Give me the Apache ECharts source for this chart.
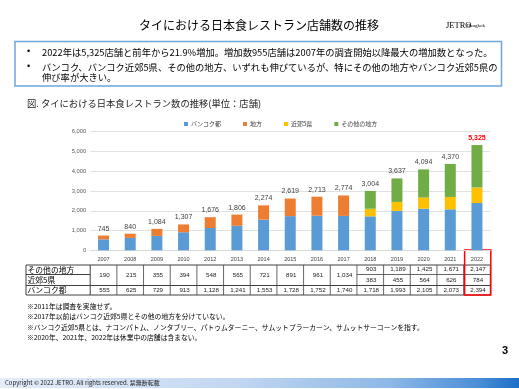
<!DOCTYPE html>
<html><head><meta charset="utf-8">
<script src="https://cdn.jsdelivr.net/npm/echarts@6/dist/echarts.min.js"></script>
<style>html,body{margin:0;padding:0;background:#fff}#c{width:519px;height:389px}</style>
</head><body><div id="c"></div>
<script>
const years = ['2007','2008','2009','2010','2012','2013','2014','2015','2016','2017','2018','2019','2020','2021','2022'];
const bangkok = [555,625,729,913,1128,1241,1553,1728,1752,1740,1718,1993,2105,2073,2394];
const chiho   = [190,215,355,394,548,565,721,891,961,1034,null,null,null,null,null];
const suburb  = [null,null,null,null,null,null,null,null,null,null,383,455,564,626,784];
const other   = [null,null,null,null,null,null,null,null,null,null,903,1189,1425,1671,2147];
const yTicks  = [0,1000,2000,3000,4000,5000,6000];
const seriesNames = ['バンコク都','地方','近郊5県','その他の地方'];
const rowNames = ['その他の地方','近郊5県','バンコク都'];
const bullets = [
  '2022年は5,325店舗と前年から21.9%増加。増加数955店舗は2007年の調査開始以降最大の増加数となった。',
  'バンコク、バンコク近郊5県、その他の地方、いずれも伸びているが、特にその他の地方やバンコク近郊5県の',
  '伸び率が大きい。'
];
const notes = [
  '※2011年は調査を実施せず。',
  '※2017年以前はバンコク近郊5県とその他の地方を分けていない。',
  '※バンコク近郊5県とは、ナコンパトム、ノンタブリー、パトゥムターニー、サムットプラーカーン、サムットサーコーンを指す。',
  '※2020年、2021年、2022年は休業中の店舗は含まない。'
];

const JP = '"Noto Sans CJK JP", sans-serif';
const NUM = '"Liberation Sans", Arial, sans-serif';
const colors = ['#5B9BD5','#ED7D31','#FFC000','#70AD47'];
const totals = years.map((y,i)=>[bangkok,chiho,suburb,other].reduce((s,a)=>s+(a[i]||0),0));
const fmt = v => v.toLocaleString('en-US');

const chart = echarts.init(document.getElementById('c'), null, {renderer:'canvas'});
const barData = [bangkok, chiho, suburb, other];
const option = {
  backgroundColor: '#fff',
  animation: false,
  grid: {left: 90.2, right: 28.7, top: 131.7, bottom: 138.7, containLabel: false},
  legend: {
    data: seriesNames, left: 179, top: 116, icon: 'rect', itemWidth: 4, itemHeight: 4,
    itemGap: 22, textStyle: {fontFamily: JP, fontSize: 6, color: '#404040', padding:[0,0,0,-2]}
  },
  xAxis: {
    type: 'category', data: years,
    axisTick: {show: false},
    axisLine: {lineStyle: {color: '#d9d9d9', width: 1}},
    axisLabel: {fontFamily: NUM, fontSize: 5.5, color: '#404040', margin: 6}
  },
  yAxis: {
    type: 'value', min: yTicks[0], max: yTicks[yTicks.length-1], interval: 1000,
    axisLine: {show: false}, axisTick: {show: false},
    splitLine: {lineStyle: {color: '#d9d9d9', width: 0.8}},
    axisLabel: {fontFamily: NUM, fontSize: 5.8, color: '#595959', margin: 4, formatter: v => fmt(v)}
  },
  series: barData.map((d,i)=>({
    name: seriesNames[i], type: 'bar', stack: 'total', data: d, barWidth: 11,
    itemStyle: {color: colors[i]}
  })).concat([{
    name: 'total', type: 'line', data: totals.map((v,i)=> i===totals.length-1 ?
      {value: v, label: {color: '#FF0000', fontWeight: 'bold'}} : v),
    symbol: 'circle', symbolSize: 1, itemStyle: {color: 'rgba(0,0,0,0)'},
    lineStyle: {width: 0, opacity: 0}, silent: true,
    label: {show: true, position: 'top', distance: 3, fontFamily: NUM, fontSize: 7, color: '#404040', formatter: p => fmt(p.value)}
  }])
};
chart.setOption(option);

// Build page graphics
const g = [];
const T = (x,y,text,font,size,color,align,weight,extra) => g.push(Object.assign({
  type:'text', x, y, silent:true,
  style:{text, fontFamily:font, fontSize:size, fill:color||'#000', align:align||'left', verticalAlign:'middle', fontWeight:weight||'normal'}
}, extra||{}));
const L = (x1,y1,x2,y2,color,w) => g.push({type:'line', silent:true, shape:{x1,y1,x2,y2}, style:{stroke:color, lineWidth:w}});

// title & logo
T(259, 25, 'タイにおける日本食レストラン店舗数の推移', JP, 12, '#000', 'center');
T(446, 25.5, 'JETRO', '"Liberation Serif", serif', 8.5, '#000', 'left');
T(467, 26, 'Bangkok', '"Liberation Serif", serif', 5, '#000', 'left');
// box
g.push({type:'rect', silent:true, shape:{x:15, y:41.5, width:486.5, height:44.5}, style:{fill:'none', stroke:'#6FA6DC', lineWidth:1.5}});
T(27, 52, '•', NUM, 9, '#000'); T(27, 67, '•', NUM, 9, '#000');
T(42, 52, bullets[0], JP, 9.3, '#000');
T(42, 67, bullets[1], JP, 9.3, '#000');
T(42, 77, bullets[2], JP, 9.3, '#000');
// subtitle
T(27, 103, '図. タイにおける日本食レストラン数の推移(単位：店舗)', JP, 9.3, '#222');

// table
const px = y => chart.convertToPixel({xAxisIndex:0}, y);
const c0 = px(years[0]), c1 = px(years[1]);
const half = (c1 - c0) / 2;
const rows = [265, 274.5, 285.5, 295];
const tL = 26, tLab = c0 - half, tR = px(years[years.length-1]) + half;
const bc = '#404040';
g.push({type:'rect', silent:true, shape:{x:tL, y:rows[0], width:tR-tL, height:rows[3]-rows[0]}, style:{fill:'none', stroke:bc, lineWidth:1}});
L(tL, rows[2], tR, rows[2], bc, 1);
L(tL, rows[1], tLab, rows[1], bc, 1);
L(tLab, rows[0], tLab, rows[3], bc, 1);
years.forEach((y,i)=>{
  const c = px(y);
  if (i < years.length-1) L(c+half, rows[0], c+half, rows[3], bc, 0.8);
  const tx = c + 1;
  if (chiho[i] != null) {
    T(tx, (rows[0]+rows[2])/2, fmt(chiho[i]), NUM, 6.2, '#222', 'center');
  } else {
    L(c-half, rows[1], c+half, rows[1], bc, 0.8);
    T(tx, (rows[0]+rows[1])/2, fmt(other[i]), NUM, 6.2, '#222', 'center');
    T(tx, (rows[1]+rows[2])/2, fmt(suburb[i]), NUM, 6.2, '#222', 'center');
  }
  T(tx, (rows[2]+rows[3])/2, fmt(bangkok[i]), NUM, 6.2, '#222', 'center');
});
rowNames.forEach((n,i)=> T(tL+1.5, (rows[i]+rows[i+1])/2, n, JP, 7.8, '#000'));
// red box around last column
const cl = px(years[years.length-1]);
g.push({type:'rect', silent:true, shape:{x:cl-half+1, y:250, width:2*half-0.5, height:45}, style:{fill:'none', stroke:'#FF0000', lineWidth:1.5}});

// notes
[306, 316.5, 327, 337.5].forEach((y,i)=> T(27, y, notes[i], JP, 6.8, '#000'));
// page number
T(505, 351, '3', NUM, 11, '#000', 'center', 'bold');
// footer
g.push({type:'rect', silent:true, shape:{x:0, y:378, width:519, height:10},
  style:{fill: new echarts.graphic.LinearGradient(0,0,1,0,[
    {offset:0,color:'#e4edf9'},{offset:0.45,color:'#c3d7f1'},{offset:0.75,color:'#8db8e7'},{offset:0.92,color:'#4b8fd6'},{offset:1,color:'#1b6ec6'}])}});
T(5, 383, 'Copyright © 2022 JETRO. All rights reserved. 禁無断転載', JP, 6, '#222');

chart.setOption({graphic: {elements: g}});
</script></body></html>
